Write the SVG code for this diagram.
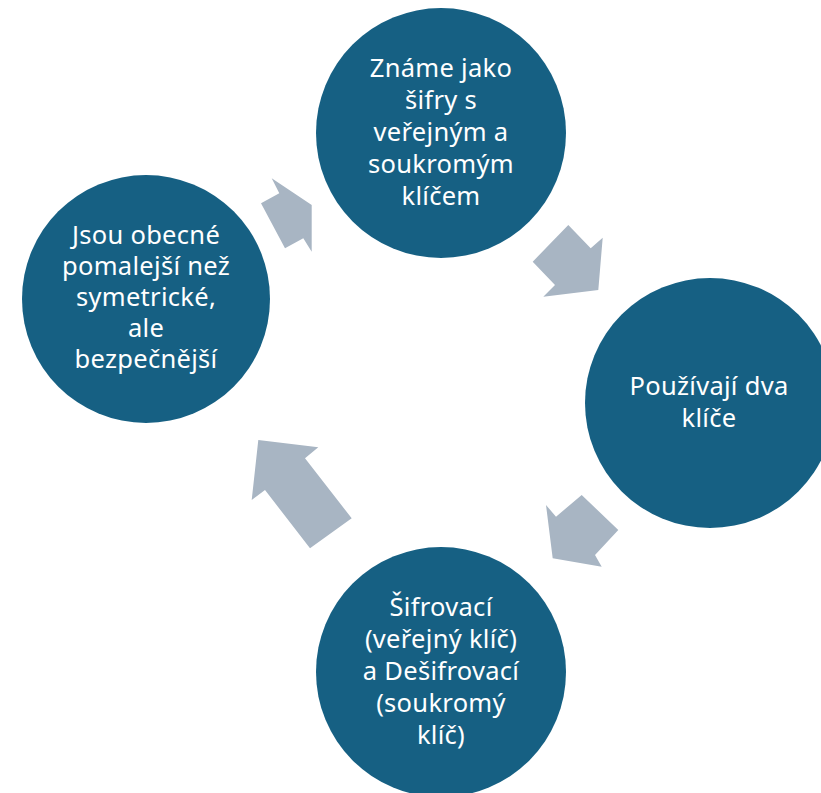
<svg xmlns="http://www.w3.org/2000/svg" width="821" height="793" viewBox="0 0 821 793">
<style>
.node{fill:#166083}
.arrow{fill:#A8B5C3}
.lbl{font-family:"Noto Sans","Open Sans","Liberation Sans",sans-serif;font-size:25.5px;fill:#FFFFFF;text-anchor:middle;letter-spacing:0.3px}
</style>
<rect width="821" height="793" fill="#FFFFFF"/>
<g id="connectors">
<polygon class="arrow" points="271.7,178.3 279.3,193.3 261,203.3 285,248.3 303.3,238.3 311.7,251.7 311.7,205"/>
<polygon class="arrow" points="568.3,225 590.7,248.3 602.7,237.7 598.3,290 543.3,296.7 555,285 532.7,261.7"/>
<polygon class="arrow" points="546,505 556,516.7 581.7,495 618.3,530 595,555 601.7,566.7 552.7,558.3"/>
<polygon class="arrow" points="258.3,440 318.3,447.3 305,458.3 351.7,518.3 310,548.3 265,490 251.7,500"/>
</g>
<g id="node-top">
<circle class="node" cx="441" cy="133" r="125"/>
<text class="lbl" x="441"><tspan x="441" y="77">Známe jako</tspan><tspan x="441" y="109">šifry s</tspan><tspan x="441" y="141">veřejným a</tspan><tspan x="441" y="173">soukromým</tspan><tspan x="441" y="205">klíčem</tspan></text>
</g>
<g id="node-right">
<circle class="node" cx="710" cy="403" r="125"/>
<text class="lbl"><tspan x="709" y="395">Používají dva</tspan><tspan x="709" y="427">klíče</tspan></text>
</g>
<g id="node-bottom">
<circle class="node" cx="441" cy="672" r="125"/>
<text class="lbl"><tspan x="441" y="616">Šifrovací</tspan><tspan x="441" y="648">(veřejný klíč)</tspan><tspan x="441" y="680">a Dešifrovací</tspan><tspan x="441" y="712">(soukromý</tspan><tspan x="441" y="744">klíč)</tspan></text>
</g>
<g id="node-left">
<circle class="node" cx="146" cy="299" r="124"/>
<text class="lbl"><tspan x="146" y="244">Jsou obecné</tspan><tspan x="146" y="275">pomalejší než</tspan><tspan x="146" y="306">symetrické,</tspan><tspan x="146" y="337">ale</tspan><tspan x="146" y="368">bezpečnější</tspan></text>
</g>
</svg>
